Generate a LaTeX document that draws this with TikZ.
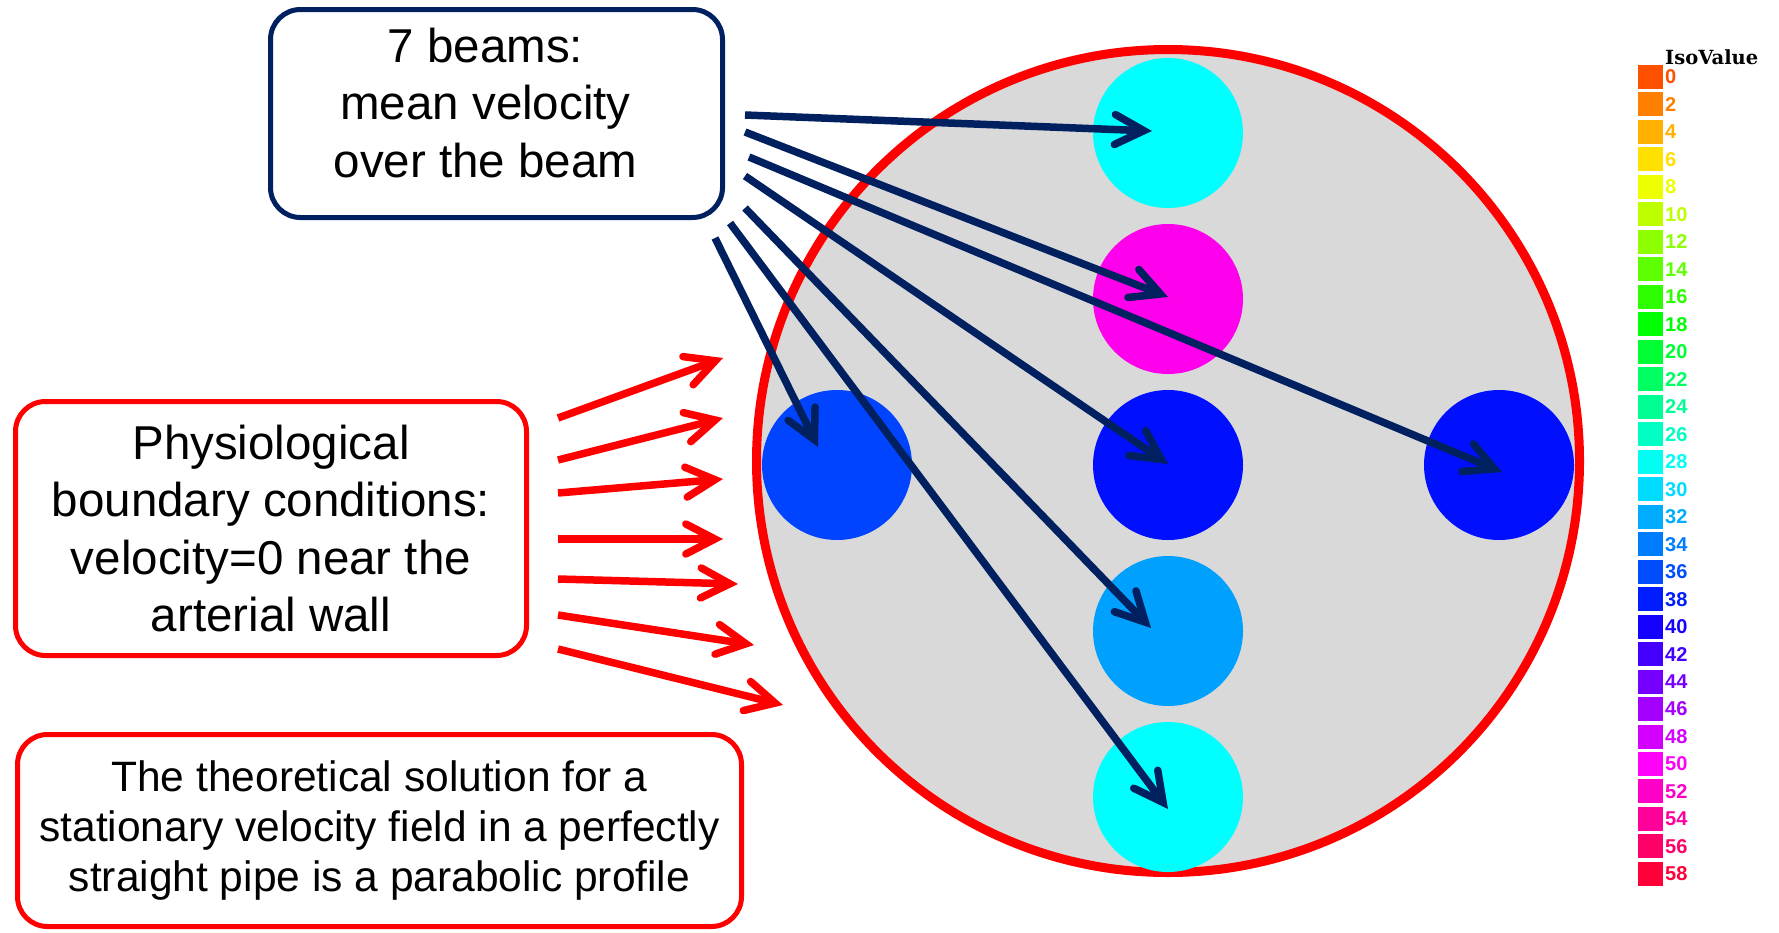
\documentclass[tikz,border=0pt]{standalone}
\usepackage{fontspec}
\setmainfont{Liberation Sans}
\newfontfamily\legendserif{DejaVu Serif}
\usetikzlibrary{arrows.meta,calc}
\definecolor{navy}{HTML}{002060}
\definecolor{pipegray}{HTML}{D9D9D9}
\definecolor{iso28}{HTML}{00FFFF}
\definecolor{iso32}{HTML}{00A0FF}
\definecolor{iso36}{HTML}{0044FF}
\definecolor{iso38}{HTML}{0010FF}
\definecolor{iso50}{HTML}{FF00EC}

\begin{document}
\begin{tikzpicture}[x=1pt,y=-1pt,
  beam/.style={circle, minimum size=150pt, inner sep=0pt},
  textbox/.style={draw, line width=5pt, rounded corners=30pt, fill=white, inner sep=0pt, align=center},
  bigtext/.style={font=\fontsize{47.5}{57.5}\selectfont},
  barb/.style={-{Straight Barb[length=29pt,width=30pt,line cap=round,line join=miter]}},
  wallarrow/.style={barb, red, line width=7.5pt},
  beamarrow/.style={barb, navy, line width=7.5pt}]
\useasboundingbox (0,0) rectangle (1779,932);

% cross section of the pipe
\node[circle, draw=red, line width=9pt, fill=pipegray, minimum size=823pt] (pipe) at (1168,461) {};
\node[beam, fill=iso28] (btop) at (1168,133) {};
\node[beam, fill=iso50] (bup) at (1168,299) {};
\node[beam, fill=iso38] (bmid) at (1168,465) {};
\node[beam, fill=iso32] (blow) at (1168,631) {};
\node[beam, fill=iso28] (bbot) at (1168,797) {};
\node[beam, fill=iso36] (bleft) at (837,465) {};
\node[beam, fill=iso38] (bright) at (1499,465) {};

% boxes
\node[textbox, draw=navy, minimum width=452pt, minimum height=208pt] (beams) at (496.5,113.5) {};
\node[bigtext, align=center, inner sep=0pt] (beamstext) at (485.5,103) {7 beams:\\mean velocity\\over the beam};
\node[textbox, draw=red, bigtext, minimum width=511pt, minimum height=254pt] (wall) at (271,528.5)
  {Physiological\\boundary conditions:\\velocity=0 near the\\arterial wall};
\node[textbox, draw=red, font=\fontsize{42.5}{50}\selectfont, minimum width=724pt, minimum height=192pt] (theory) at (379.5,830.5)
  {The theoretical solution for a\\stationary velocity field in a perfectly\\straight pipe is a parabolic profile};

\foreach \i/\ya/\xb/\yb in {1/418/723/358, 2/460/723/418, 3/493/723/479, 4/539/723/539,
    5/579/738/584, 6/615/754/645, 7/649/783/705}{
  \coordinate (ws\i) at (558,\ya);
  \coordinate (we\i) at (\xb,\yb);
  \draw[wallarrow] (ws\i) -- (we\i);
}

\foreach \sx/\sy/\n/\dx/\dy in {745/115/btop/-16/-2, 745/132/bup/0/-2, 749/157/bright/3/7,
    745/176/bmid/0/-1, 745/208/blow/-17/-3, 730/223/bbot/0/12, 715/238/bleft/-19/-18}{
  \coordinate (src\n) at (\sx,\sy);
  \draw[beamarrow] (src\n) -- ([shift={(\dx,\dy)}]\n.center);
}

% colour scale
\node[anchor=base west, inner sep=0pt, font=\legendserif\bfseries\fontsize{19.5}{20}\selectfont] (isotitle) at (1665,64) {IsoValue};
\foreach \i in {0,...,29}{
  \pgfmathsetmacro{\hue}{18.8+11.3*\i}
  \pgfmathsetmacro{\ytop}{65+27.48*\i}
  \pgfmathtruncatemacro{\val}{2*\i}
  \convertcolorspec{Hsb}{\hue,1,1}{rgb}\isorgb
  \definecolor{isocol}{rgb}{\isorgb}
  \fill[isocol] (1638,\ytop) rectangle ++(25,24);
  \node[anchor=west, inner sep=0pt, text=isocol, font=\bfseries\fontsize{20}{20}\selectfont] (iso\i) at (1665,\ytop+12) {\val};
}
\end{tikzpicture}
\end{document}
